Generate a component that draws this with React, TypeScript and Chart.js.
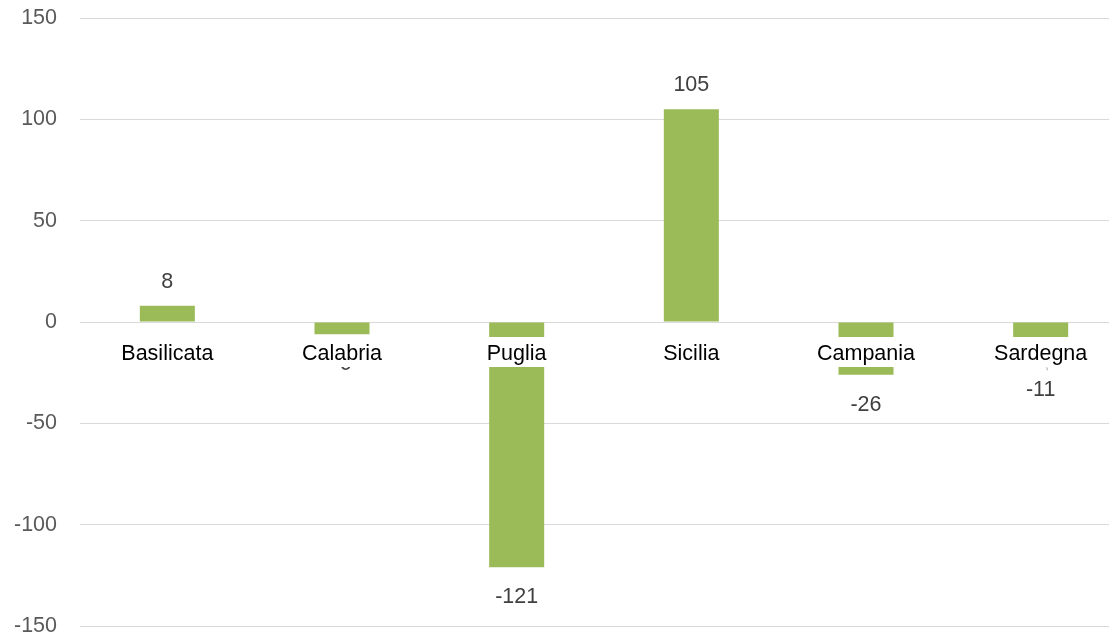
import React, { useEffect, useRef } from "react";
import { Chart, registerables } from "chart.js";

Chart.register(...registerables);

const categories = ["Basilicata", "Calabria", "Puglia", "Sicilia", "Campania", "Sardegna"];
const values = [8, -6, -121, 105, -26, -11];
// the Sardegna data label was moved down manually in the original (with a leader line)
const labelExtraShift = [0, 0, 0, 0, 0, 16];
const yMin = -150;
const yMax = 150;
const yStep = 50;

const FONT = '"Liberation Sans", Arial, sans-serif';
const FONT_SIZE = 21.5;

const labelPlugin = {
  id: "customLabels",
  afterDatasetsDraw(chart: any) {
    const ctx = chart.ctx;
    const meta = chart.getDatasetMeta(0);
    const yScale = chart.scales.y;
    const zeroY = yScale.getPixelForValue(0);
    ctx.save();
    ctx.font = `${FONT_SIZE}px ${FONT}`;
    ctx.textAlign = "center";
    ctx.textBaseline = "middle";
    // value labels
    meta.data.forEach((bar: any, i: number) => {
      const v = values[i];
      const x = bar.x;
      ctx.fillStyle = "#404040";
      if (v >= 0) {
        ctx.fillText(String(v), x, bar.y - 24);
      } else {
        const ly = bar.y + 30 + labelExtraShift[i];
        ctx.fillText(String(v), x, ly);
        if (labelExtraShift[i] > 0) {
          ctx.strokeStyle = "#a6a6a6";
          ctx.lineWidth = 1;
          ctx.beginPath();
          ctx.moveTo(x + 6, ly - 23);
          ctx.lineTo(x + 7, ly - 20);
          ctx.stroke();
        }
      }
    });
    // category labels at zero line with white background
    meta.data.forEach((bar: any, i: number) => {
      const text = categories[i];
      const w = ctx.measureText(text).width + 4;
      const boxTop = zeroY + 15;
      const boxH = 30;
      ctx.fillStyle = "#ffffff";
      ctx.fillRect(bar.x - w / 2, boxTop, w, boxH);
      ctx.fillStyle = "#000000";
      ctx.fillText(text, bar.x, zeroY + 32);
    });
    ctx.restore();
  },
};

export default function App() {
  const canvasRef = useRef<HTMLCanvasElement | null>(null);

  useEffect(() => {
    if (!canvasRef.current) return;
    const chart = new Chart(canvasRef.current, {
      type: "bar",
      data: {
        labels: categories,
        datasets: [
          {
            data: values,
            backgroundColor: "#9BBB59",
            borderWidth: 0,
            barPercentage: 0.315,
            categoryPercentage: 1,
          },
        ],
      },
      options: {
        animation: false,
        responsive: true,
        maintainAspectRatio: false,
        layout: { padding: { top: 18, bottom: 11, left: 0, right: 2 } },
        plugins: {
          legend: { display: false },
          tooltip: { enabled: false },
          title: { display: false },
        },
        scales: {
          x: {
            display: false,
            grid: { display: false },
          },
          y: {
            min: yMin,
            max: yMax,
            border: { display: false },
            grid: {
              color: "#D9D9D9",
              lineWidth: 1,
              drawTicks: true,
              tickLength: 23,
              tickColor: "rgba(0,0,0,0)",
            },
            ticks: {
              stepSize: yStep,
              padding: 0,
              color: "#595959",
              font: { family: FONT, size: FONT_SIZE, lineHeight: 1 },
            },
            afterFit: (axis: any) => {
              axis.width = 80;
            },
          },
        },
      },
      plugins: [labelPlugin],
    });
    return () => chart.destroy();
  }, []);

  return (
    <div style={{ position: "fixed", left: 0, top: 0, width: 1130, height: 637, background: "#fff" }}>
      <canvas ref={canvasRef} />
    </div>
  );
}
